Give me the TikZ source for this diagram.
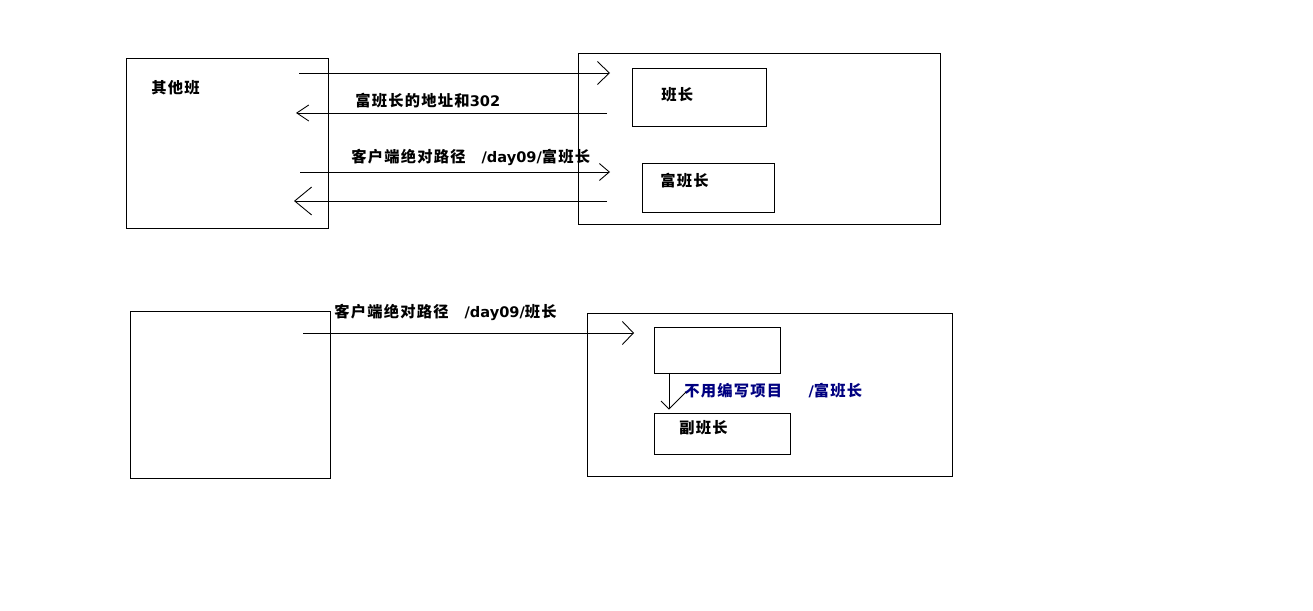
\documentclass[tikz,border=0pt]{standalone}
\usepackage{fontspec}
\usetikzlibrary{arrows.meta}
\newfontfamily\cjk{Noto Sans CJK SC}[LetterSpace=8]
\newfontfamily\latfont{DejaVu Sans}
\newcommand\lat[1]{{\latfont\bfseries\fontsize{8.3pt}{10pt}\selectfont #1}}
\definecolor{navy}{RGB}{0,0,128}
\begin{document}
\begin{tikzpicture}[x=0.02cm,y=-0.02cm,
  line width=0.5pt,
  box/.style={draw,rectangle,inner sep=0pt,anchor=north west},
  lbl/.style={anchor=west,inner sep=0pt,font=\cjk\bfseries\fontsize{8.7pt}{10pt}\selectfont}
]
\useasboundingbox (0,0) rectangle (1313,611);

% ---- upper scene: other class asking the monitor ----
\node[box,minimum width=4.04cm,minimum height=3.4cm] (other) at (126,58) {};
\node[box,minimum width=7.24cm,minimum height=3.42cm] (cls) at (578,53) {};
\node[box,minimum width=2.68cm,minimum height=1.16cm] (mon) at (632,68) {};
\node[box,minimum width=2.64cm,minimum height=0.98cm] (rich) at (642,163) {};

\node[lbl] (tOther) at (151,88) {其他班};
\node[lbl] (tMon) at (661,95) {班长};
\node[lbl] (tRich) at (660,181) {富班长};

\coordinate (a1s) at (299,73);  \coordinate (a1e) at (610,73);
\coordinate (a2s) at (607,113); \coordinate (a2e) at (296,113);
\coordinate (a3s) at (300,172); \coordinate (a3e) at (610,172);
\coordinate (a4s) at (607,201); \coordinate (a4e) at (294,201);

\draw[-{Straight Barb[length=0.24cm,width=0.46cm]}] (a1s) -- (a1e);
\draw[-{Straight Barb[length=0.24cm,width=0.32cm]}] (a2s) -- (a2e);
\draw[-{Straight Barb[length=0.2cm,width=0.34cm]}] (a3s) -- (a3e);
\draw[-{Straight Barb[length=0.34cm,width=0.56cm]}] (a4s) -- (a4e);

\node[lbl] (tAddr) at (355,101) {富班长的地址和\lat{302}};
\node[lbl] (tPath1) at (351,157) {客户端绝对路径\hspace{9pt}\lat{/day09/}富班长};

% ---- lower scene: forwarding inside the class ----
\node[box,minimum width=4.0cm,minimum height=3.34cm] (other2) at (130,311) {};
\node[box,minimum width=7.3cm,minimum height=3.26cm] (cls2) at (587,313) {};
\node[box,minimum width=2.52cm,minimum height=0.92cm] (mon2) at (654,327) {};
\node[box,minimum width=2.72cm,minimum height=0.82cm] (vice) at (654,413) {};

\node[lbl] (tVice) at (679,428) {副班长};
\node[lbl] (tPath2) at (334,312) {客户端绝对路径\hspace{9pt}\lat{/day09/}班长};
\node[lbl,text=navy] (tFwd) at (684,391) {不用编写项目\hspace{15pt}\lat{/}富班长};

\coordinate (b1s) at (303,333); \coordinate (b1e) at (634,333);
\draw[-{Straight Barb[length=0.22cm,width=0.46cm]}] (b1s) -- (b1e);

% forward arrow, drawn with its uneven head
\coordinate (fs) at (669,373);
\coordinate (fe) at (669,409);
\coordinate (fl) at (661,401);
\coordinate (fr) at (686,392);
\draw (fs) -- (fe);
\draw (fl) -- (fe) -- (fr);
\end{tikzpicture}
\end{document}
